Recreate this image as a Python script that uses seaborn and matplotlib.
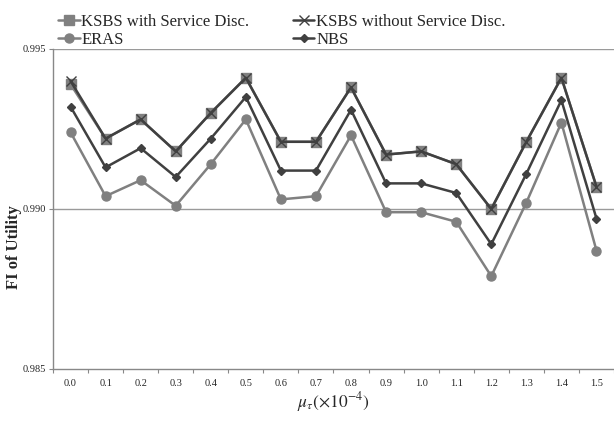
import numpy as np
import pandas as pd
import matplotlib
matplotlib.use("Agg")
import matplotlib.pyplot as plt
import seaborn as sns

# data
mu_labels = ["0.0", "0.1", "0.2", "0.3", "0.4", "0.5", "0.6", "0.7",
             "0.8", "0.9", "1.0", "1.1", "1.2", "1.3", "1.4", "1.5"]
ksbs_with = [0.9939, 0.9922, 0.9928, 0.9918, 0.9930, 0.9941, 0.9921, 0.9921,
             0.9938, 0.9917, 0.9918, 0.9914, 0.9900, 0.9921, 0.9941, 0.9907]
ksbs_without = [0.9940, 0.9922, 0.9928, 0.9918, 0.9930, 0.9941, 0.9921, 0.9921,
                0.9938, 0.9917, 0.9918, 0.9914, 0.9900, 0.9921, 0.9941, 0.9907]
eras = [0.9924, 0.9904, 0.9909, 0.9901, 0.9914, 0.9928, 0.9903, 0.9904,
        0.9923, 0.9899, 0.9899, 0.9896, 0.9879, 0.9902, 0.9927, 0.9887]
nbs = [0.9932, 0.9913, 0.9919, 0.9910, 0.9922, 0.9935, 0.9912, 0.9912,
       0.9931, 0.9908, 0.9908, 0.9905, 0.9889, 0.9911, 0.9934, 0.9897]

sns.set_style("white")
plt.rcParams['font.family'] = ['Liberation Serif', 'DejaVu Serif']
plt.rcParams['mathtext.fontset'] = 'stix'

DARK = "#404040"
GRAY = "#808080"

pos = np.arange(len(mu_labels))

fig = plt.figure(figsize=(6.14, 4.23), dpi=100)
ax = fig.add_axes([0.0863, 0.1277, 0.9137, 0.7565])

# gridlines behind the data
for yv in [0.990, 0.995]:
    ax.axhline(yv, color="#9a9a9a", lw=1.0, zorder=0)

series = [
    ("ERAS", eras, GRAY, "o", 6.5),
    ("NBS", nbs, DARK, "D", 4.5),
    ("KSBS with Service Disc.", ksbs_with, GRAY, "s", 6.5),
    ("KSBS without Service Disc.", ksbs_without, DARK, "x", 6.5),
]
for name, vals, col, mk, ms in series:
    sns.lineplot(x=pos, y=vals, ax=ax, color=col, marker=mk, markersize=ms,
                 markeredgecolor=col, markeredgewidth=1.0, lw=1.8, label=name)

ax.set_xlim(-0.5, len(mu_labels) - 0.5)
ax.set_ylim(0.985, 0.995)

# category axis: ticks between categories, labels at centres
ax.set_xticks(np.arange(-0.5, len(mu_labels), 1.0))
ax.set_xticklabels([])
ax.set_xticks(pos, minor=True)
ax.set_xticklabels(mu_labels, minor=True, fontsize=7.5)
ax.tick_params(axis="x", which="major", direction="out", length=3, color="#888888", bottom=True)
ax.tick_params(axis="x", which="minor", length=0, pad=7)

ax.set_yticks([0.985, 0.990, 0.995])
ax.set_yticklabels(["0.985", "0.990", "0.995"], fontsize=7.5)
ax.tick_params(axis="y", direction="out", length=3, color="#888888", left=True, pad=2)

for s in ["top", "right"]:
    ax.spines[s].set_visible(False)
for s in ["left", "bottom"]:
    ax.spines[s].set_color("#888888")
    ax.spines[s].set_linewidth(1.0)

ax.set_xlabel(r"$\mu_{\tau}\left(\times 10^{-4}\right)$", fontsize=12.5, labelpad=2)
ax.set_ylabel("")
fig.text(0.023, 0.416, "FI of Utility", rotation=90, fontsize=12,
         fontweight="bold", ha="center", va="center")

handles, labels = ax.get_legend_handles_labels()
ax.get_legend().remove()
order = ["KSBS with Service Disc.", "ERAS", "KSBS without Service Disc.", "NBS"]
hmap = dict(zip(labels, handles))
fig.legend([hmap[k] for k in order], order, ncol=2, loc="upper left",
           bbox_to_anchor=(0.078, 0.99), frameon=False, fontsize=12,
           handlelength=1.3, handletextpad=0.1, columnspacing=2.6,
           labelspacing=0.12, borderaxespad=0.2)

fig.savefig("out.png", dpi=100)
